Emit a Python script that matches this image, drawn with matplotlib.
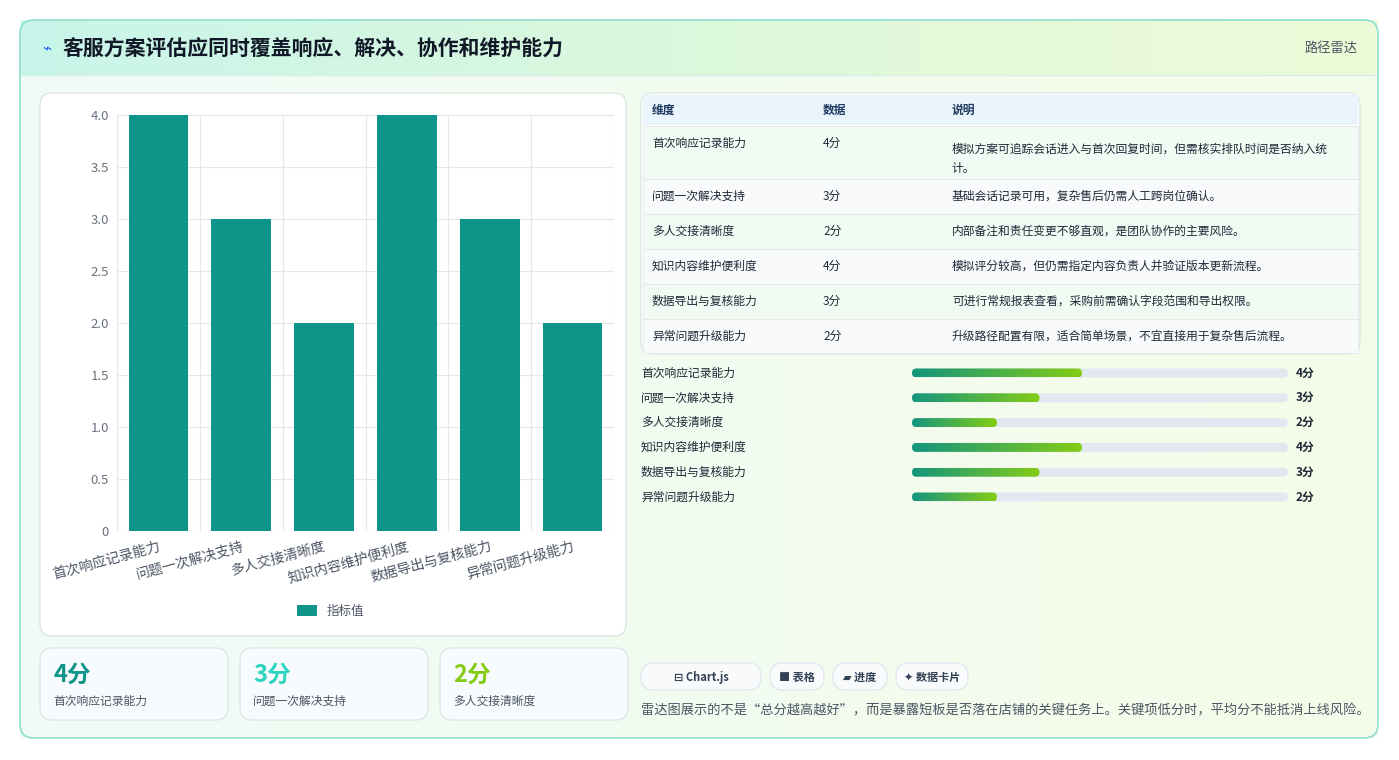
import numpy as np
import matplotlib.pyplot as plt
from matplotlib.patches import FancyBboxPatch, Rectangle
from matplotlib.colors import LinearSegmentedColormap

plt.rcParams['font.family'] = ['Noto Sans CJK SC', 'DejaVu Sans']

categories = ["首次响应记录能力", "问题一次解决支持", "多人交接清晰度",
              "知识内容维护便利度", "数据导出与复核能力", "异常问题升级能力"]
scores = [4, 3, 2, 4, 3, 2]
notes = ["模拟方案可追踪会话进入与首次回复时间，但需核实排队时间是否纳入统\n计。",
         "基础会话记录可用，复杂售后仍需人工跨岗位确认。",
         "内部备注和责任变更不够直观，是团队协作的主要风险。",
         "模拟评分较高，但仍需指定内容负责人并验证版本更新流程。",
         "可进行常规报表查看，采购前需确认字段范围和导出权限。",
         "升级路径配置有限，适合简单场景，不宜直接用于复杂售后流程。"]
card_colors = ["#0e9488", "#2dd4bf", "#84cc16"]
chips = ["⊟ Chart.js", "■ 表格", "▰ 进度", "✦ 数据卡片"]

W, H = 1399, 760
fig = plt.figure(figsize=(W / 100, H / 100), dpi=100)
bg = fig.add_axes([0, 0, 1, 1])
bg.set_xlim(0, W)
bg.set_ylim(H, 0)
bg.axis("off")

# page background gradient (mint -> light lime)
grad = np.linspace(0, 1, 256).reshape(1, -1)
page_cmap = LinearSegmentedColormap.from_list("pg", ["#f0fbf8", "#f5fbe8"])
bg.imshow(grad, extent=(20, 1378, 738, 20), cmap=page_cmap, aspect="auto", zorder=0)
bg.add_patch(FancyBboxPatch((20, 20), 1358, 718, boxstyle="round,pad=0,rounding_size=14",
                            fc="none", ec="#8de0cc", lw=1.2, zorder=5))
head_cmap = LinearSegmentedColormap.from_list("hd", ["#c8f5ea", "#dcf8dc", "#eefbd8"])
bg.imshow(grad, extent=(21, 1377, 75, 21), cmap=head_cmap, aspect="auto", zorder=1)
bg.plot([21, 1377], [75, 75], color="#d7eee6", lw=1, zorder=2)
bg.text(42, 49, "⌁", fontsize=11, color="#2563eb", va="center", zorder=3)
bg.text(62, 49, "客服方案评估应同时覆盖响应、解决、协作和维护能力", fontsize=15,
        fontweight="bold", color="#111827", va="center", zorder=3)
bg.text(1358, 48, "路径雷达", fontsize=9.5, color="#4b5563", va="center", ha="right", zorder=3)


def box(x, y, w, h, fc="white", ec="#dbe7e3", r=12, lw=1.0):
    bg.add_patch(FancyBboxPatch((x, y), w, h, boxstyle=f"round,pad=0,rounding_size={r}",
                                fc=fc, ec=ec, lw=lw, zorder=2))


# chart panel
box(40, 93, 586, 543)
ax = fig.add_axes([117 / W, (H - 531) / H, 497 / W, 416 / H])
x = np.arange(len(categories))
ax.bar(x, scores, width=0.72, color="#0e9488", label="指标值", zorder=3)
ax.set_ylim(0, 4)
ax.set_xlim(-0.5, len(categories) - 0.5)
ax.set_yticks(np.arange(0, 4.01, 0.5))
ax.set_yticklabels(["0", "0.5", "1.0", "1.5", "2.0", "2.5", "3.0", "3.5", "4.0"])
ax.set_xticks(x)
ax.set_xticklabels(categories, rotation=15, ha="right", rotation_mode="anchor")
ax.set_xticks(np.arange(-0.5, len(categories)), minor=True)
ax.grid(True, axis="y", color="#e5e7eb", lw=0.8, zorder=0)
ax.grid(True, axis="x", which="minor", color="#e5e7eb", lw=0.8, zorder=0)
ax.tick_params(axis="both", which="both", length=0, labelsize=9.5, colors="#6b7280", pad=6)
ax.tick_params(axis="x", which="major", colors="#4b5563", labelsize=10)
for s in ax.spines.values():
    s.set_visible(False)
ax.axhline(0, color="#d1d5db", lw=0.8)
ax.patch.set_alpha(0)
ax.legend(loc="upper center", bbox_to_anchor=(0.43, -0.15), frameon=False,
          fontsize=9, handlelength=1.6, handleheight=0.9, labelcolor="#4b5563")

# metric cards
for i in range(3):
    cx = 40 + i * 200
    box(cx, 648, 188, 72, fc="#f8fbfd")
    bg.text(cx + 13, 675, f"{scores[i]}分", fontsize=17, fontweight="bold",
            color=card_colors[i], va="center", zorder=3)
    bg.text(cx + 13, 701, categories[i], fontsize=8.5, color="#4b5563", va="center", zorder=3)

# table
box(641, 93, 719, 261, fc="white")
bg.add_patch(Rectangle((643, 95), 715, 30, fc="#eaf4fd", ec="none", zorder=2))
row_y = [126, 179, 214, 249, 284, 319, 353]
for i in range(6):
    fc = "#f1fbf4" if i % 2 == 0 else "#f8fafc"
    bg.add_patch(Rectangle((643, row_y[i]), 715, row_y[i + 1] - row_y[i], fc=fc,
                           ec="#e5e7eb", lw=0.6, zorder=2))
for hx, t in zip([652, 823, 952], ["维度", "数据", "说明"]):
    bg.text(hx, 110, t, fontsize=8.5, fontweight="bold", color="#1e3a5f", va="center", zorder=3)
for i in range(6):
    ty = row_y[i] + 17 if i else 143
    bg.text(652, ty, categories[i], fontsize=8.5, color="#1f2937", va="center", zorder=3)
    bg.text(823, ty, f"{scores[i]}分", fontsize=8.5, color="#1f2937", va="center", zorder=3)
    bg.text(952, ty - (0 if i else 0), notes[i], fontsize=8.5, color="#1f2937",
            va="top" if i == 0 else "center", linespacing=1.6, zorder=3)
# fix first row note alignment
bg.texts[-1].set_va("center")

# progress bars
bar_cmap = LinearSegmentedColormap.from_list("pb", ["#14967e", "#84cc16"])
for i, (c, v) in enumerate(zip(categories, scores)):
    y = 373 + i * 24.8
    bg.text(641, y, c, fontsize=8.5, color="#1f2937", va="center", zorder=3)
    bg.add_patch(FancyBboxPatch((912, y - 4.5), 376, 9, boxstyle="round,pad=0,rounding_size=4.5",
                                fc="#e2e8f0", ec="none", zorder=2))
    fw = 376 * v / 9 * 0.0 + (v / 4) * 170
    im = bg.imshow(grad, extent=(912, 912 + fw, y + 4.5, y - 4.5), cmap=bar_cmap,
                   aspect="auto", zorder=3)
    clip = FancyBboxPatch((912, y - 4.5), fw, 9, boxstyle="round,pad=0,rounding_size=4.5",
                          fc="none", ec="none", transform=bg.transData)
    bg.add_patch(clip)
    im.set_clip_path(clip)
    bg.text(1296, y, f"{v}分", fontsize=8.5, fontweight="bold", color="#1f2937",
            va="center", zorder=3)

# chips
cx = 641
for t in chips:
    w = 10 + len(t) * 9 + (20 if "Chart" in t else 8)
    box(cx, 663, w, 27, fc="#f8fafc", ec="#e2e8f0", r=13)
    bg.text(cx + w / 2, 677, t, fontsize=8, fontweight="bold", color="#334155",
            ha="center", va="center", zorder=3,
            family=["Noto Sans CJK SC", "DejaVu Sans"])
    cx += w + 9
bg.text(641, 711, "雷达图展示的不是“总分越高越好”，而是暴露短板是否落在店铺的关键任务上。关键项低分时，平均分不能抵消上线风险。",
        fontsize=9.5, color="#4b5563", va="center", zorder=3)

fig.savefig("out.png", dpi=100)
